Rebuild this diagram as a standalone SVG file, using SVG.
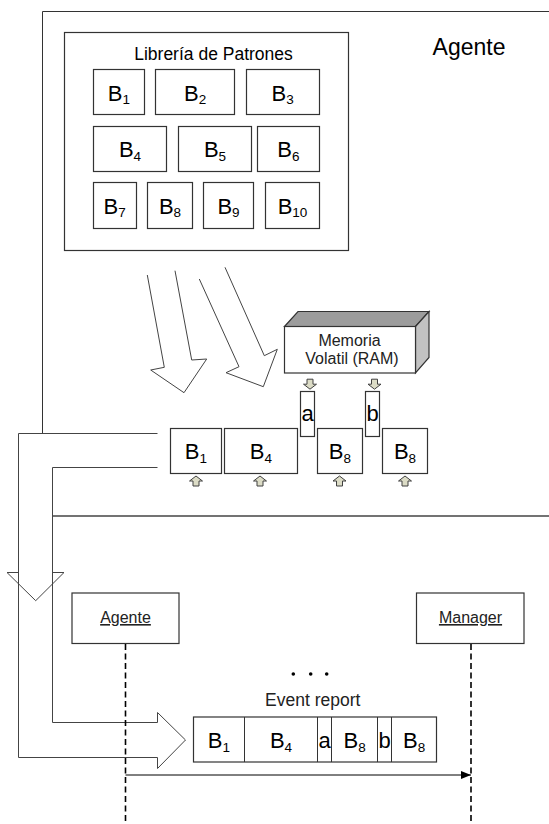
<svg xmlns="http://www.w3.org/2000/svg" width="549" height="824" viewBox="0 0 549 824">
<defs>
<style>
text{font-family:"Liberation Sans",Arial,sans-serif;fill:#000}
.box{fill:#fff;stroke:#333;stroke-width:1.2}
.ln{fill:none;stroke:#444;stroke-width:1}
.blk{font-size:22px;text-anchor:middle}
.sub{font-size:13.5px}
.lbl{font-size:16px;text-anchor:middle}
.sm{fill:#dcdcc6;stroke:#404040;stroke-width:1}
.life{fill:none;stroke:#000;stroke-width:1.6;stroke-dasharray:6,3.5}
</style>
<marker id="ah" markerWidth="10" markerHeight="8" refX="10" refY="4" orient="auto" markerUnits="userSpaceOnUse">
<path d="M0,0 L10,4 L0,8 Z" fill="#000"/>
</marker>
<path id="upA" d="M0,-5 L6.5,0 L3,0 L3,5 L-3,5 L-3,0 L-6.5,0 Z"/>
</defs>

<g id="agente-frame">
<polyline class="ln" points="42.5,433.5 42.5,11.5 549,11.5" style="stroke:#333"/>
<text x="469" y="55" style="font-size:23px;text-anchor:middle">Agente</text>
</g>

<g id="libreria">
<rect class="box" x="64.5" y="32.5" width="284" height="218"/>
<text x="213.5" y="60" style="font-size:17.5px;text-anchor:middle">Librería de Patrones</text>
</g>
<g id="lib-b1"><rect class="box" x="93.5" y="69.5" width="51" height="45"/><text class="blk" x="118.8" y="100.5">B<tspan class="sub" dy="3.5">1</tspan></text></g>
<g id="lib-b2"><rect class="box" x="155.5" y="69.5" width="79" height="45"/><text class="blk" x="195.2" y="100.5">B<tspan class="sub" dy="3.5">2</tspan></text></g>
<g id="lib-b3"><rect class="box" x="246.5" y="69.5" width="73" height="45"/><text class="blk" x="282.7" y="100.5">B<tspan class="sub" dy="3.5">3</tspan></text></g>
<g id="lib-b4"><rect class="box" x="93.5" y="126.5" width="73" height="45"/><text class="blk" x="130" y="157">B<tspan class="sub" dy="3.5">4</tspan></text></g>
<g id="lib-b5"><rect class="box" x="178.5" y="126.5" width="73" height="45"/><text class="blk" x="215" y="157">B<tspan class="sub" dy="3.5">5</tspan></text></g>
<g id="lib-b6"><rect class="box" x="257.5" y="126.5" width="62" height="45"/><text class="blk" x="288.3" y="157">B<tspan class="sub" dy="3.5">6</tspan></text></g>
<g id="lib-b7"><rect class="box" x="93.5" y="182.5" width="43" height="46"/><text class="blk" x="114.7" y="213.5">B<tspan class="sub" dy="3.5">7</tspan></text></g>
<g id="lib-b8"><rect class="box" x="147.5" y="182.5" width="45" height="46"/><text class="blk" x="170" y="213.5">B<tspan class="sub" dy="3.5">8</tspan></text></g>
<g id="lib-b9"><rect class="box" x="203.5" y="182.5" width="50" height="46"/><text class="blk" x="228.5" y="213.5">B<tspan class="sub" dy="3.5">9</tspan></text></g>
<g id="lib-b10"><rect class="box" x="265.5" y="182.5" width="54" height="46"/><text class="blk" x="292.5" y="213.5">B<tspan class="sub" dy="3.5">10</tspan></text></g>

<g id="memoria">
<polygon points="284.5,326.5 298,311.5 429,311.5 415.5,326.5" fill="#9c9c9c" stroke="#333" stroke-width="1.2"/>
<polygon points="415.5,326.5 429,311.5 429,357.5 415.5,373" fill="#c2c2c2" stroke="#333" stroke-width="1.2"/>
<rect class="box" x="284.5" y="326.5" width="131" height="46.5"/>
<text x="349.5" y="345.5" style="font-size:16px;text-anchor:middle;fill:#222">Memoria</text>
<text x="352" y="363.5" style="font-size:16px;text-anchor:middle;fill:#222">Volatil (RAM)</text>
</g>

<g id="fila-b1"><rect class="box" x="170.5" y="428.5" width="51" height="45"/><text class="blk" x="195.8" y="459">B<tspan class="sub" dy="3.5">1</tspan></text></g>
<g id="fila-b4"><rect class="box" x="224.5" y="428.5" width="73" height="45"/><text class="blk" x="260.8" y="459">B<tspan class="sub" dy="3.5">4</tspan></text></g>
<g id="fila-a"><rect class="box" x="300.5" y="391.5" width="14" height="45"/><text class="blk" x="307.5" y="421">a</text></g>
<g id="fila-b8a"><rect class="box" x="317.5" y="428.5" width="45" height="45"/><text class="blk" x="339.8" y="459">B<tspan class="sub" dy="3.5">8</tspan></text></g>
<g id="fila-b"><rect class="box" x="365.5" y="391.5" width="14" height="45"/><text class="blk" x="372.5" y="421">b</text></g>
<g id="fila-b8b"><rect class="box" x="382.5" y="428.5" width="45" height="45"/><text class="blk" x="405" y="459">B<tspan class="sub" dy="3.5">8</tspan></text></g>

<g id="seq-frame">
<line x1="52.5" y1="516" x2="549" y2="516" stroke="#444" stroke-width="1.6"/>
</g>

<g id="seq-agente">
<rect class="box" x="72" y="593" width="107" height="50.5"/>
<text class="lbl" x="125.5" y="623" style="text-decoration:underline;fill:#222">Agente</text>
</g>
<g id="seq-manager">
<rect class="box" x="416.5" y="593" width="107.5" height="50.5"/>
<text class="lbl" x="470.5" y="623" style="text-decoration:underline;fill:#222">Manager</text>
</g>

<g id="dots">
<circle cx="293.3" cy="674" r="1.8" fill="#000"/>
<circle cx="310.7" cy="674" r="1.8" fill="#000"/>
<circle cx="326.7" cy="674" r="1.8" fill="#000"/>
</g>

<g id="event-report">
<text x="312.7" y="705.7" style="font-size:17.5px;text-anchor:middle;fill:#222">Event report</text>
<rect class="box" x="193.5" y="717" width="243" height="45"/>
<line class="ln" x1="244.5" y1="717" x2="244.5" y2="762" style="stroke:#333"/>
<line class="ln" x1="317.5" y1="717" x2="317.5" y2="762" style="stroke:#333"/>
<line class="ln" x1="331.5" y1="717" x2="331.5" y2="762" style="stroke:#333"/>
<line class="ln" x1="377.5" y1="717" x2="377.5" y2="762" style="stroke:#333"/>
<line class="ln" x1="391.5" y1="717" x2="391.5" y2="762" style="stroke:#333"/>
<text class="blk" x="218.9" y="748">B<tspan class="sub" dy="3.5">1</tspan></text>
<text class="blk" x="281" y="748">B<tspan class="sub" dy="3.5">4</tspan></text>
<text class="blk" x="324.6" y="748">a</text>
<text class="blk" x="354.6" y="748">B<tspan class="sub" dy="3.5">8</tspan></text>
<text class="blk" x="384.6" y="748">b</text>
<text class="blk" x="414.2" y="748">B<tspan class="sub" dy="3.5">8</tspan></text>
</g>

<g id="connectors">
<polyline class="ln" points="147.3,275 164.3,367.3 150.7,370 184,392.7 206.7,359 191.7,360 175,270.7"/>
<polyline class="ln" points="199.3,279 239,366.7 226,372.7 263.3,386.7 277.3,349.3 264.3,355.7 225,267.3"/>
<polyline class="ln" points="157.5,433.5 18.5,433.5 18.5,757.5 157.5,757.5 157.5,768.5 185.5,740 157.5,712.5 157.5,722.5 52.5,722.5 52.5,467.5 157.5,467.5"/>
<polyline class="ln" points="18.5,572.5 7,572.5 35.7,600.7 64,572.5 52.5,572.5"/>
<use href="#upA" class="sm" transform="translate(310,384.2) rotate(180)"/>
<use href="#upA" class="sm" transform="translate(374.5,384.2) rotate(180)"/>
<use href="#upA" class="sm" transform="translate(196,481)"/>
<use href="#upA" class="sm" transform="translate(260,481)"/>
<use href="#upA" class="sm" transform="translate(339.5,481)"/>
<use href="#upA" class="sm" transform="translate(405,481)"/>
<line class="life" x1="125.5" y1="644" x2="125.5" y2="824"/>
<line class="life" x1="471" y1="644" x2="471" y2="824"/>
<line x1="125.5" y1="775" x2="471" y2="775" stroke="#000" stroke-width="1" marker-end="url(#ah)"/>
</g>
</svg>
